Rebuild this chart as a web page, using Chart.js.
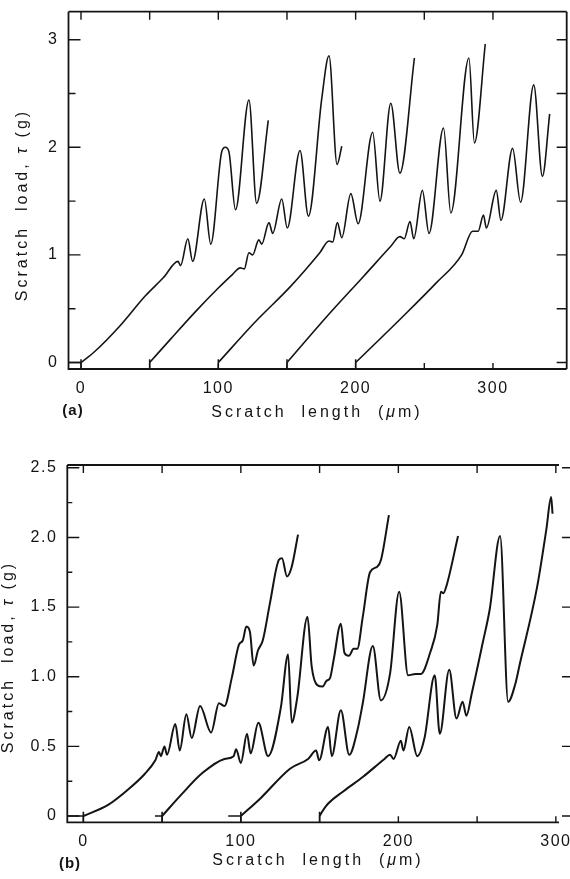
<!DOCTYPE html>
<html>
<head>
<meta charset="utf-8">
<script src="https://cdn.jsdelivr.net/npm/chart.js@4.4.1/dist/chart.umd.min.js"></script>
<style>
  html, body { margin: 0; padding: 0; background: #fff; }
  body { width: 570px; height: 879px; position: relative; overflow: hidden; }
  canvas { position: absolute; left: 0; }
  #chartA { top: 0; }
  #chartB { top: 440px; }
</style>
</head>
<body>
<canvas id="chartA" width="570" height="440"></canvas>
<canvas id="chartB" width="570" height="439"></canvas>
<script>
// ---- panel (a): five scratches, 50 um apart ----
const aStarts = [0, 50, 100, 150, 200];
const aLen1 = [0, 9.8, 28.3, 46.9, 60.1, 70.7, 72.5, 77.8, 81.3, 89.8, 94.5, 102.5, 105.1, 107.7, 112.5, 122.3, 127.9, 136.4];
const aLoad1 = [0, 0.10, 0.34, 0.62, 0.79, 0.94, 0.90, 1.15, 0.94, 1.52, 1.10, 1.96, 2.00, 1.96, 1.42, 2.44, 1.48, 2.25];
const aLen2 = [50, 65.4, 83.9, 99.8, 110.4, 116.0, 118.9, 122.3, 125.0, 129.5, 131.6, 136.9, 139.6, 146.2, 150.2, 159.5, 165.6, 175.3, 180.6, 186.5, 189.9];
const aLoad2 = [0, 0.22, 0.48, 0.69, 0.82, 0.88, 0.87, 1.02, 1.00, 1.14, 1.10, 1.30, 1.20, 1.52, 1.25, 1.97, 1.36, 2.45, 2.85, 1.84, 2.01];
const aLen3 = [100, 126.3, 152.8, 173.9, 180.6, 183.3, 186.7, 189.9, 196.5, 201.8, 212.4, 217.7, 225.6, 232.2, 242.8];
const aLoad3 = [0, 0.37, 0.71, 1.02, 1.13, 1.12, 1.30, 1.16, 1.57, 1.29, 2.14, 1.50, 2.41, 1.76, 2.83];
const aLen4 = [150, 179.2, 205.7, 225.6, 232.2, 235.4, 239.6, 242.3, 248.6, 253.4, 264.0, 269.3, 282.5, 286.5, 294.4];
const aLoad4 = [0, 0.43, 0.80, 1.08, 1.17, 1.15, 1.31, 1.15, 1.60, 1.20, 2.18, 1.39, 2.83, 2.04, 2.96];
const aLen5 = [200, 232.2, 258.7, 277.2, 285.2, 289.2, 293.1, 295.2, 302.4, 305.8, 314.3, 320.1, 329.7, 336.0, 341.3];
const aLoad5 = [0, 0.40, 0.74, 1.00, 1.22, 1.22, 1.37, 1.25, 1.60, 1.32, 1.99, 1.49, 2.58, 1.73, 2.31];

const aLengthTicks = [0, 50, 100, 150, 200, 250, 300];
const aLengthLabels = [0, 100, 200, 300];
const aLoadTicks = [0, 0.5, 1, 1.5, 2, 2.5, 3];
const aLoadLabels = [0, 1, 2, 3];

// ---- panel (b): four scratches ----
const bStarts = [0, 50, 100, 150];
const bLeadIn = [-10.2, 45.5, 92, 150]; // short baseline marks before each start
const bLen1 = [0, 15.7, 27.3, 38.8, 45.7, 48, 49.2, 51.5, 53.1, 58.4, 61.2, 65.4, 68.8, 74.1, 81.1, 86.1, 89.6, 94.2, 98.8, 101.2, 103.5, 105.8, 108.1, 110.9, 113.9, 118.5, 124.2, 126.1, 129.3, 132.3, 136.3];
const bLoad1 = [0, 0.08, 0.18, 0.30, 0.40, 0.46, 0.43, 0.50, 0.44, 0.66, 0.47, 0.73, 0.56, 0.79, 0.60, 0.81, 0.79, 0.99, 1.23, 1.26, 1.36, 1.32, 1.08, 1.19, 1.26, 1.53, 1.84, 1.85, 1.72, 1.79, 2.02];
const bLen2 = [50, 61.9, 75.7, 89.6, 95.4, 97, 100, 103.9, 106.2, 111.1, 117.3, 125.4, 130, 132.3, 135.8, 142.3, 145, 148.5, 152, 154.3, 156.6, 158.9, 163.5, 165.8, 168.6, 171.6, 173.9, 177.4, 182, 186.6, 189, 194];
const bLoad2 = [0, 0.15, 0.31, 0.41, 0.43, 0.48, 0.38, 0.59, 0.45, 0.67, 0.43, 0.78, 1.16, 0.67, 0.85, 1.43, 1.07, 0.94, 0.93, 0.97, 0.99, 1.12, 1.38, 1.17, 1.15, 1.20, 1.20, 1.43, 1.75, 1.79, 1.84, 2.16];
const bLen3 = [100, 112.7, 131.2, 142.7, 147.8, 149.7, 155.4, 157.7, 163.5, 168.8, 173.9, 177.4, 183.8, 188.9, 194.7, 200.5, 206.2, 210.9, 214.3, 220.1, 224.7, 227, 228.6, 230.5, 237.9];
const bLoad3 = [0, 0.13, 0.34, 0.41, 0.47, 0.40, 0.64, 0.43, 0.76, 0.44, 0.61, 0.81, 1.22, 0.83, 1.02, 1.61, 1.01, 1.02, 1.02, 1.17, 1.37, 1.61, 1.60, 1.65, 2.01];
const bLen4 = [150, 153.9, 165.4, 177.4, 191.2, 194.7, 197, 201.6, 203.2, 206.9, 212, 216.6, 223.1, 226.3, 232.3, 236.9, 240.8, 243.2, 246.6, 253.5, 258.1, 264.6, 269.7, 274.3, 276.7, 288.2, 294, 297, 297.9];
const bLoad4 = [0, 0.07, 0.18, 0.28, 0.41, 0.44, 0.41, 0.54, 0.47, 0.64, 0.43, 0.56, 1.01, 0.59, 1.05, 0.70, 0.82, 0.72, 0.88, 1.24, 1.49, 2.01, 0.82, 0.95, 1.07, 1.65, 2.06, 2.29, 2.17];

const bLengthTicks = [0, 50, 100, 150, 200, 250, 300];
const bLengthLabels = [0, 100, 200, 300];
const bLoadTicks = [0, 0.25, 0.5, 0.75, 1, 1.25, 1.5, 1.75, 2, 2.25, 2.5];
const bLoadLabels = [0, 0.5, 1, 1.5, 2, 2.5];

const INK = '#141414';
const FONT = '"Liberation Sans", Arial, Helvetica, sans-serif';

function pairs(xs, ys) {
    return xs.map((x, i) => ({ x: x, y: ys[i] }));
}

function curve(xs, ys, w) {
    return {
        data: pairs(xs, ys),
        borderColor: INK,
        borderWidth: w,
        pointRadius: 0,
        cubicInterpolationMode: 'monotone',
        fill: false
    };
}

// little start marks (vertical tick at each start, optional baseline lead-in)
function startMarks(starts, leads, yLow, w) {
    const pts = [];
    starts.forEach((s, i) => {
        if (leads && leads[i] < s) {
            pts.push({ x: leads[i], y: 0 }, { x: s, y: 0 }, { x: s, y: null });
        }
        pts.push({ x: s, y: yLow }, { x: s, y: 0.03 }, { x: s, y: null });
    });
    return { data: pts, borderColor: INK, borderWidth: w, pointRadius: 0, tension: 0, spanGaps: false };
}

// draws frame + inward ticks, and the axis titles
const framePlugin = {
    id: 'frameTicks',
    beforeDraw(chart) {
        chart.ctx.letterSpacing = '1.5px';
    },
    afterDatasetsDraw(chart, args, o) {
        const { ctx, chartArea: a, scales: { x, y } } = chart;
        ctx.save();
        ctx.strokeStyle = INK;
        ctx.lineWidth = o.frameWidth;
        ctx.beginPath();
        ctx.moveTo(a.left, a.top); ctx.lineTo(a.left, a.bottom); ctx.lineTo(a.right, a.bottom);
        ctx.moveTo(a.left, a.top); ctx.lineTo(a.right, a.top);
        if (o.rightBorder) { ctx.moveTo(a.right, a.top); ctx.lineTo(a.right, a.bottom); }
        ctx.stroke();

        ctx.lineWidth = 1.4;
        ctx.beginPath();
        x.ticks.forEach(t => {
            const px = x.getPixelForValue(t.value);
            ctx.moveTo(px, a.bottom); ctx.lineTo(px, a.bottom - o.xBottom);
            ctx.moveTo(px, a.top); ctx.lineTo(px, a.top + o.xTop);
        });
        y.ticks.forEach(t => {
            const py = y.getPixelForValue(t.value);
            const major = o.yLabels.includes(t.value);
            ctx.moveTo(a.left, py); ctx.lineTo(a.left + (major ? o.yMajor : o.yMinor), py);
            if (o.rightOut) {
                if (major) { ctx.moveTo(a.right + 3, py); ctx.lineTo(a.right + 11, py); }
            } else {
                ctx.moveTo(a.right, py); ctx.lineTo(a.right - o.yRight, py);
            }
        });
        ctx.stroke();

        // axis titles
        ctx.fillStyle = INK;
        ctx.textBaseline = 'middle';
        ctx.letterSpacing = '3px';
        drawRich(ctx, [['Scratch  length  (', false], ['\u03bc', true], ['m)', false]], o.xTitle[0], o.xTitle[1], 0);
        drawRich(ctx, [['Scratch  load, ', false], ['\u03c4', true], [' (g)', false]], o.yTitle[0], o.yTitle[1], -Math.PI / 2);
        ctx.letterSpacing = '1px';
        ctx.font = 'bold 15px ' + FONT;
        ctx.textAlign = 'center';
        ctx.fillText(o.tag, o.tagPos[0], o.tagPos[1]);
        ctx.restore();
    }
};

function drawRich(ctx, parts, cx, cy, rot) {
    const fonts = parts.map(p => (p[1] ? 'italic ' : '') + '16px ' + FONT);
    let total = 0;
    parts.forEach((p, i) => { ctx.font = fonts[i]; total += ctx.measureText(p[0]).width; });
    ctx.save();
    ctx.translate(cx, cy);
    ctx.rotate(rot);
    ctx.textAlign = 'left';
    let xx = -total / 2;
    parts.forEach((p, i) => {
        ctx.font = fonts[i];
        ctx.fillText(p[0], xx, 0);
        xx += ctx.measureText(p[0]).width;
    });
    ctx.restore();
}

function makeChart(id, cfg) {
    return new Chart(document.getElementById(id), {
        type: 'line',
        data: { datasets: cfg.datasets },
        options: {
            responsive: false,
            animation: false,
            layout: { padding: cfg.padding },
            plugins: { legend: { display: false }, tooltip: { enabled: false }, frameTicks: cfg.frame },
            scales: {
                x: {
                    type: 'linear',
                    min: cfg.xMin, max: cfg.xMax,
                    grid: { display: false, drawTicks: false },
                    border: { display: false },
                    afterBuildTicks: s => { s.ticks = cfg.xTicks.map(v => ({ value: v })); },
                    afterFit: s => { s.height = cfg.xHeight; s.paddingLeft = 0; s.paddingRight = 0; },
                    ticks: {
                        padding: 10, color: INK, maxRotation: 0, autoSkip: false,
                        font: { family: FONT, size: 16 },
                        callback: v => (cfg.xLabels.includes(v) ? String(v) : '')
                    }
                },
                y: {
                    type: 'linear',
                    min: cfg.yMin, max: cfg.yMax,
                    grid: { display: false, drawTicks: false },
                    border: { display: false },
                    afterBuildTicks: s => { s.ticks = cfg.yTicks.map(v => ({ value: v })); },
                    afterFit: s => { s.width = cfg.yWidth; s.paddingTop = 0; s.paddingBottom = 0; },
                    ticks: {
                        padding: 10, color: INK, autoSkip: false,
                        font: { family: FONT, size: 16 },
                        callback: cfg.yFormat
                    }
                }
            }
        },
        plugins: [framePlugin]
    });
}

// panel (a)
makeChart('chartA', {
    datasets: [
        curve(aLen1, aLoad1, 1.6), curve(aLen2, aLoad2, 1.6), curve(aLen3, aLoad3, 1.6),
        curve(aLen4, aLoad4, 1.6), curve(aLen5, aLoad5, 1.6),
        startMarks(aStarts, [-9.1, 50, 100, 150, 200], -0.06, 1.5)
    ],
    padding: { left: 0, right: 3.3, top: 11.7, bottom: 0 },
    xMin: -9.1, xMax: 353.7, yMin: -0.06, yMax: 3.26,
    xTicks: aLengthTicks, xLabels: aLengthLabels,
    yTicks: aLoadTicks,
    yFormat: v => (aLoadLabels.includes(v) ? String(v) : ''),
    xHeight: 71, yWidth: 68.5,
    frame: {
        frameWidth: 1.8, rightBorder: true, rightOut: false,
        xBottom: 6, xTop: 8, yMajor: 12, yMinor: 7, yRight: 10,
        yLabels: aLoadLabels,
        xTitle: [317, 413], yTitle: [23, 205], tag: '(a)', tagPos: [73, 411]
    }
});

// panel (b)
makeChart('chartB', {
    datasets: [
        curve(bLen1, bLoad1, 2), curve(bLen2, bLoad2, 2), curve(bLen3, bLoad3, 2), curve(bLen4, bLoad4, 2),
        startMarks(bStarts, bLeadIn, -0.045, 1.6)
    ],
    padding: { left: 0, right: 11, top: 25, bottom: 0 },
    xMin: -10.2, xMax: 302, yMin: -0.045, yMax: 2.52,
    xTicks: bLengthTicks, xLabels: bLengthLabels,
    yTicks: bLoadTicks,
    yFormat: v => (bLoadLabels.includes(v) ? (v === 0 ? '0' : v.toFixed(1)) : ''),
    xHeight: 56.7, yWidth: 67.3,
    frame: {
        frameWidth: 1.8, rightBorder: false, rightOut: true,
        xBottom: 6, xTop: 8, yMajor: 12, yMinor: 5, yRight: 8,
        yLabels: bLoadLabels,
        xTitle: [318, 421], yTitle: [9, 217], tag: '(b)', tagPos: [70, 424]
    }
});
</script>
</body>
</html>
